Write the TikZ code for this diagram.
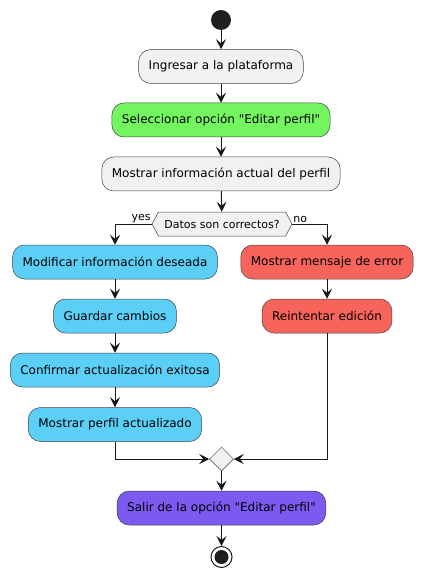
\documentclass[tikz,border=0pt]{standalone}
\usepackage{fontspec}
\setmainfont{DejaVu Sans}
\usetikzlibrary{shapes.geometric,shapes.symbols,arrows.meta}
\definecolor{actgray}{HTML}{F1F1F1}
\definecolor{actgreen}{HTML}{72F55E}
\definecolor{actblue}{HTML}{5CCFF7}
\definecolor{actred}{HTML}{F7645C}
\definecolor{actpurple}{HTML}{7C5AF0}

\begin{document}
\begin{tikzpicture}
  [x=1pt,y=-1pt,font=\fontsize{12}{14}\selectfont]
      \tikzstyle{act_style} = [draw=black!75, line width=0.5pt, rounded corners=12pt, fill=actgray, minimum height=34pt, inner xsep=10pt]
      \tikzstyle{edge_style} = [draw=black!90, line width=1pt, -{Stealth[length=10pt,width=10pt,inset=4pt]}]
  \useasboundingbox (0,0) rectangle (423,577);
  \node[fill=black!88, circle, minimum size=20pt, inner sep=0pt] (n0) at (221,20) {};
  \node[act_style] (n1) at (221,66.5) {Ingresar a la plataforma};
  \node[act_style, fill=actgreen] (n2) at (221,120) {Seleccionar opción \textquotedbl Editar perfil\textquotedbl};
  \node[act_style] (n3) at (221,174) {Mostrar información actual del perfil};
  \node[signal, signal to=east and west, signal pointer angle=124, draw=black!75, line width=0.5pt, fill=actgray, minimum width=140pt, minimum height=24pt, inner sep=0pt, font=\fontsize{11}{13}\selectfont] (n4) at (222,224) {Datos son correctos?};
  \node[anchor=south east, inner sep=1pt, font=\fontsize{11}{13}\selectfont] (yes) at (n4.west) {yes};
  \node[anchor=south west, inner sep=1pt, font=\fontsize{11}{13}\selectfont] (no) at (n4.east) {no};
  \node[act_style, fill=actblue] (n5) at (115,262) {Modificar información deseada};
  \node[act_style, fill=actblue] (n6) at (115,316) {Guardar cambios};
  \node[act_style, fill=actblue] (n7) at (115,370) {Confirmar actualización exitosa};
  \node[act_style, fill=actblue] (n8) at (115,424.5) {Mostrar perfil actualizado};
  \node[act_style, fill=actred] (n9) at (327,262) {Mostrar mensaje de error};
  \node[act_style, fill=actred] (n10) at (327,316) {Reintentar edición};
  \node[diamond, draw=black!75, line width=0.5pt, fill=actgray, minimum size=24pt, inner sep=0pt] (n11) at (221.5,459) {};
  \node[act_style, fill=actpurple] (n12) at (221.5,508) {Salir de la opción \textquotedbl Editar perfil\textquotedbl};
  \node[circle, draw=black!90, line width=1pt, fill=white, minimum size=21pt, inner sep=0pt,
        path picture={\fill[black!88] (path picture bounding box.center) circle (7pt);}] (n13) at (221.5,557) {};
  \draw[edge_style] (n0) -- (n1);
  \draw[edge_style] (n1) -- (n2);
  \draw[edge_style] (n2) -- (n3);
  \draw[edge_style] (n3) -- (n4);
  \draw[edge_style] (n4.west) -| (n5.north);
  \draw[edge_style] (n4.east) -| (n9.north);
  \draw[edge_style] (n5) -- (n6);
  \draw[edge_style] (n6) -- (n7);
  \draw[edge_style] (n7) -- (n8);
  \draw[edge_style] (n9) -- (n10);
  \draw[edge_style] (n8.south) |- (n11.west);
  \draw[edge_style] (n10.south) |- (n11.east);
  \draw[edge_style] (n11) -- (n12);
  \draw[edge_style] (n12) -- (n13);
\end{tikzpicture}
\end{document}
